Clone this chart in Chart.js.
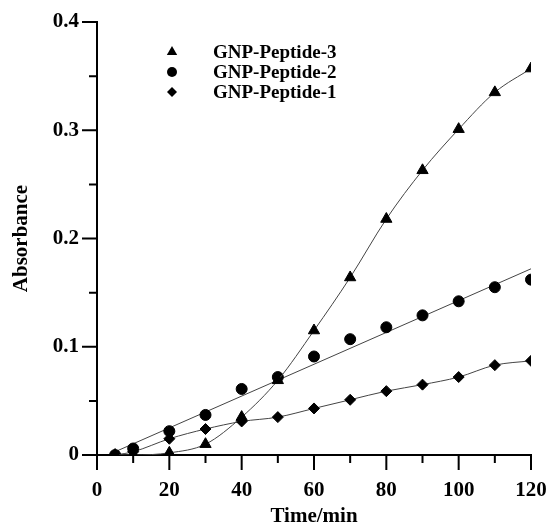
<!DOCTYPE html>
<html>
<head>
<meta charset="utf-8">
<script src="https://cdn.jsdelivr.net/npm/chart.js@4.4.0/dist/chart.umd.min.js"></script>
<style>
  html, body { margin: 0; padding: 0; background: #fff; }
</style>
</head>
<body>
<canvas id="absorbanceChart" width="548" height="529"></canvas>
<script>
// time points (min)
const times = [5, 10, 20, 30, 40, 50, 60, 70, 80, 90, 100, 110, 120];
const peptide3 = [0, 0, 0.002, 0.010, 0.035, 0.069, 0.115, 0.164, 0.218, 0.263, 0.301, 0.335, 0.357];
const peptide2 = [0, 0.006, 0.022, 0.037, 0.061, 0.072, 0.091, 0.107, 0.118, 0.129, 0.142, 0.155, 0.162];
const peptide1 = [0, 0.003, 0.015, 0.024, 0.031, 0.035, 0.043, 0.051, 0.059, 0.065, 0.072, 0.083, 0.087];
// linear fit for peptide-2
const fitTimes = [5, 120];
const peptide2Fit = [0.003, 0.172];

const xMajorTicks = [0, 20, 40, 60, 80, 100, 120];
const xMinorTicks = [10, 30, 50, 70, 90, 110];
const yMajorTicks = [0, 0.1, 0.2, 0.3, 0.4];
const yMinorTicks = [0.05, 0.15, 0.25, 0.35];

const legendNames = ['GNP-Peptide-3', 'GNP-Peptide-2', 'GNP-Peptide-1'];
const legendShapes = ['triangle', 'circle', 'rectRot'];

const serif = '"Liberation Serif", "Times New Roman", serif';

function toPoints(xs, ys) {
    return xs.map((x, i) => ({ x: x, y: ys[i] }));
}

// outward tick marks (major + minor) and the legend inside the plot
const decorations = {
    id: 'decorations',
    afterDraw(chart) {
        const ctx = chart.ctx;
        const xs = chart.scales.x, ys = chart.scales.y;
        const x0 = xs.getPixelForValue(0);
        const y0 = ys.getPixelForValue(0);
        ctx.save();
        ctx.strokeStyle = '#000';
        ctx.lineWidth = 2;
        ctx.beginPath();
        xMajorTicks.forEach(v => { const p = xs.getPixelForValue(v); ctx.moveTo(p, y0); ctx.lineTo(p, y0 + 15); });
        xMinorTicks.forEach(v => { const p = xs.getPixelForValue(v); ctx.moveTo(p, y0); ctx.lineTo(p, y0 + 8); });
        yMajorTicks.forEach(v => { const p = ys.getPixelForValue(v); ctx.moveTo(x0, p); ctx.lineTo(x0 - 15, p); });
        yMinorTicks.forEach(v => { const p = ys.getPixelForValue(v); ctx.moveTo(x0, p); ctx.lineTo(x0 - 8, p); });
        ctx.stroke();

        // legend
        const rows = [52, 72, 92];
        ctx.fillStyle = '#000';
        ctx.font = 'bold 19px ' + serif;
        ctx.textBaseline = 'middle';
        legendNames.forEach((name, i) => {
            const mx = 172, my = rows[i];
            ctx.beginPath();
            if (legendShapes[i] === 'triangle') {
                const r = 6;
                ctx.moveTo(mx, my - r);
                ctx.lineTo(mx + 0.866 * r, my + 0.5 * r);
                ctx.lineTo(mx - 0.866 * r, my + 0.5 * r);
                ctx.closePath();
            } else if (legendShapes[i] === 'circle') {
                ctx.arc(mx, my, 5, 0, Math.PI * 2);
            } else {
                const r = 5;
                ctx.moveTo(mx, my - r); ctx.lineTo(mx + r, my);
                ctx.lineTo(mx, my + r); ctx.lineTo(mx - r, my);
                ctx.closePath();
            }
            ctx.fill();
            ctx.fillText(name, 213, my + 1);
        });
        ctx.restore();
    }
};

const ctx = document.getElementById('absorbanceChart').getContext('2d');
const absorbanceChart = new Chart(ctx, {
    type: 'scatter',
    data: {
        datasets: [
            {
                label: legendNames[0],
                data: toPoints(times, peptide3),
                showLine: true,
                cubicInterpolationMode: 'monotone',
                borderColor: '#444',
                borderWidth: 1,
                pointStyle: 'triangle',
                pointRadius: 6.5,
                pointBackgroundColor: '#000',
                pointBorderColor: '#000',
                pointBorderWidth: 1
            },
            {
                label: legendNames[1],
                data: toPoints(times, peptide2),
                showLine: false,
                pointStyle: 'circle',
                pointRadius: 5.5,
                pointBackgroundColor: '#000',
                pointBorderColor: '#000',
                pointBorderWidth: 1
            },
            {
                label: 'fit',
                data: toPoints(fitTimes, peptide2Fit),
                showLine: true,
                borderColor: '#444',
                borderWidth: 1,
                pointRadius: 0
            },
            {
                label: legendNames[2],
                data: toPoints(times, peptide1),
                showLine: true,
                cubicInterpolationMode: 'monotone',
                borderColor: '#444',
                borderWidth: 1,
                pointStyle: 'rectRot',
                pointRadius: 5.5,
                pointBackgroundColor: '#000',
                pointBorderColor: '#000',
                pointBorderWidth: 1
            }
        ]
    },
    options: {
        responsive: false,
        animation: false,
        devicePixelRatio: 1,
        layout: { padding: { top: 22, right: 17, left: 0, bottom: 0 } },
        plugins: {
            legend: { display: false },
            tooltip: { enabled: false }
        },
        scales: {
            x: {
                type: 'linear',
                min: 0,
                max: 120,
                afterFit: s => { s.height = 74; s.paddingLeft = 0; s.paddingRight = 0; },
                grid: { display: false, drawTicks: false },
                border: { display: true, color: '#000', width: 2 },
                ticks: {
                    stepSize: 20,
                    padding: 23,
                    color: '#000',
                    font: { family: serif, size: 21, weight: 'bold' }
                },
                title: {
                    display: true,
                    text: 'Time/min',
                    color: '#000',
                    padding: { top: 0, bottom: 0 },
                    font: { family: serif, size: 21, weight: 'bold' }
                }
            },
            y: {
                min: 0,
                max: 0.4,
                afterFit: s => { s.width = 97; s.paddingTop = 0; s.paddingBottom = 0; },
                grid: { display: false, drawTicks: false },
                border: { display: true, color: '#000', width: 2 },
                ticks: {
                    stepSize: 0.1,
                    padding: 18,
                    color: '#000',
                    font: { family: serif, size: 21, weight: 'bold' },
                    callback: v => v === 0 ? '0' : v.toFixed(1)
                },
                title: {
                    display: true,
                    text: 'Absorbance',
                    color: '#000',
                    padding: { top: 9, bottom: 0 },
                    font: { family: serif, size: 21, weight: 'bold' }
                }
            }
        }
    },
    plugins: [decorations]
});
</script>
</body>
</html>
